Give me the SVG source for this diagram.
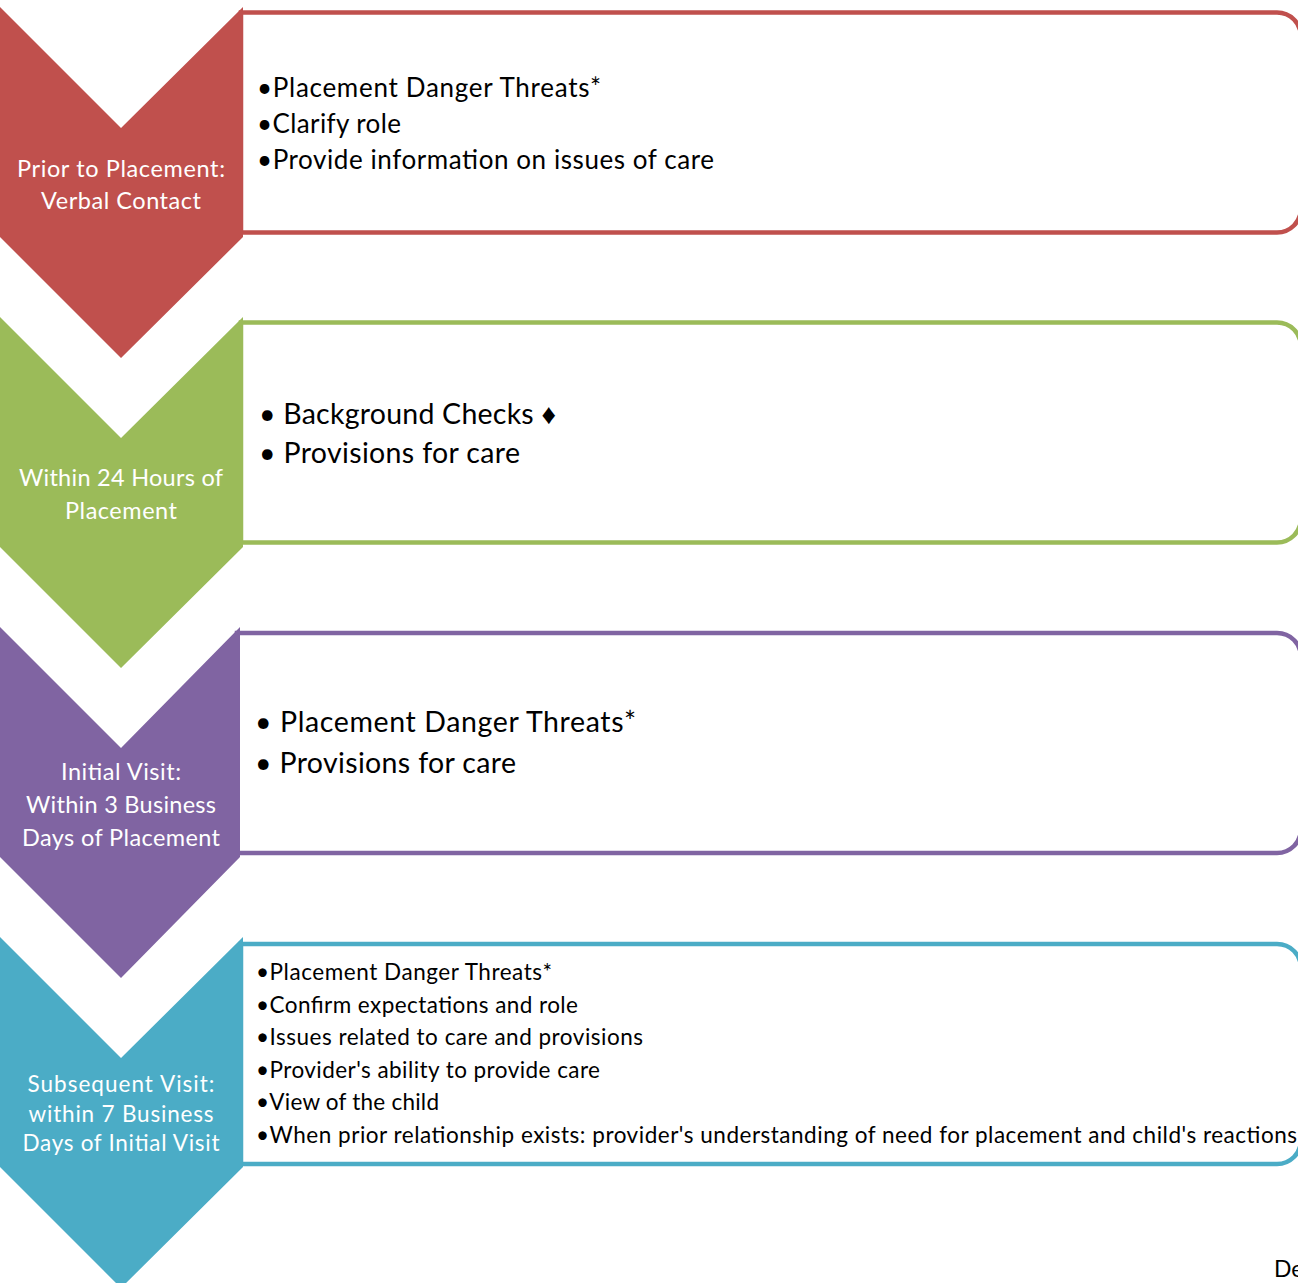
<svg xmlns="http://www.w3.org/2000/svg" width="1298" height="1283" viewBox="0 0 1298 1283">
<style>
.box{fill:#fff;stroke-width:4.5}
.lbl{font-family:Lato,"Liberation Sans",sans-serif;fill:#fff;text-anchor:middle}
.txt{font-family:Lato,"Liberation Sans",sans-serif;fill:#000}
</style>
<rect width="1298" height="1283" fill="#fff"/>
<g id="connectors"></g>
<g id="step1">
<path class="box" d="M241,12.5 H1277 A24,24 0 0 1 1301,36.5 V208.5 A24,24 0 0 1 1277,232.5 H241 Z" stroke="#C0504D"/>
<polygon points="0,7 121,128 243,7 243,237 121,358 0,237" fill="#C0504D"/>
<text class="lbl" font-size="23.5" lengthAdjust="spacing"><tspan x="121" y="177" textLength="208">Prior to Placement:</tspan><tspan x="121" y="209" textLength="160">Verbal Contact</tspan></text>
<text class="txt" font-size="26"><tspan x="257" y="97" textLength="344">•Placement Danger Threats*</tspan><tspan x="257" y="133" textLength="144">•Clarify role</tspan><tspan x="257" y="169" textLength="457">•Provide information on issues of care</tspan></text>
</g>
<g id="step2">
<path class="box" d="M241,322.5 H1277 A24,24 0 0 1 1301,346.5 V518.5 A24,24 0 0 1 1277,542.5 H241 Z" stroke="#9BBB59"/>
<polygon points="0,317 121,438 243,317 243,547 121,668 0,547" fill="#9BBB59"/>
<text class="lbl" font-size="23.5"><tspan x="121" y="486" textLength="204">Within 24 Hours of</tspan><tspan x="121" y="519" textLength="112">Placement</tspan></text>
<text class="txt" font-size="28.5"><tspan x="259" y="424" textLength="297">• Background Checks ♦</tspan><tspan x="259" y="463" textLength="261">• Provisions for care</tspan></text>
</g>
<g id="step3">
<path class="box" d="M237,633 H1277 A24,24 0 0 1 1301,657 V829 A24,24 0 0 1 1277,853 H237 Z" stroke="#8064A2"/>
<polygon points="0,627 121,748 240,627 240,857 121,978 0,857" fill="#8064A2"/>
<text class="lbl" font-size="23.5"><tspan x="121" y="780" textLength="120">Initial Visit:</tspan><tspan x="121" y="813" textLength="190">Within 3 Business</tspan><tspan x="121" y="846" textLength="198">Days of Placement</tspan></text>
<text class="txt" font-size="28.5"><tspan x="255" y="732" textLength="381">• Placement Danger Threats*</tspan><tspan x="255" y="773" textLength="261">• Provisions for care</tspan></text>
</g>
<g id="step4">
<path class="box" d="M241,944 H1277 A24,24 0 0 1 1301,968 V1140 A24,24 0 0 1 1277,1164 H241 Z" stroke="#4BACC6"/>
<polygon points="0,937 121,1058 243,937 243,1167 121,1288 0,1167" fill="#4BACC6"/>
<text class="lbl" font-size="22.5"><tspan x="121" y="1092" textLength="187">Subsequent Visit:</tspan><tspan x="121" y="1122" textLength="185">within 7 Business</tspan><tspan x="121" y="1151" textLength="197">Days of Initial Visit</tspan></text>
<text class="txt" font-size="22.5"><tspan x="256" y="980" textLength="296">•Placement Danger Threats*</tspan><tspan x="256" y="1012.5" textLength="322">•Confirm expectations and role</tspan><tspan x="256" y="1045" textLength="387">•Issues related to care and provisions</tspan><tspan x="256" y="1077.5" textLength="344">•Provider's ability to provide care</tspan><tspan x="256" y="1110" textLength="183">•View of the child</tspan><tspan x="256" y="1142.5" textLength="1041">•When prior relationship exists: provider's understanding of need for placement and child's reactions</tspan></text>
</g>
<text class="txt" font-size="23" x="1274" y="1277">De</text>
</svg>
